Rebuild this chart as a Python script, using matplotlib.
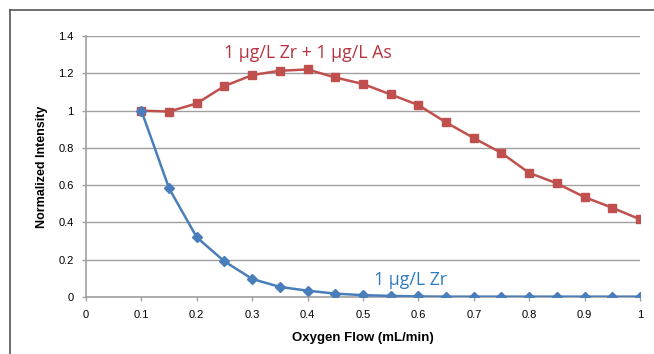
import matplotlib.pyplot as plt
from matplotlib.lines import Line2D

# oxygen flow (mL/min)
flow = [0.1, 0.15, 0.2, 0.25, 0.3, 0.35, 0.4, 0.45, 0.5, 0.55,
        0.6, 0.65, 0.7, 0.75, 0.8, 0.85, 0.9, 0.95, 1.0]

# normalized intensities
zr_as = [1.0, 0.995, 1.039, 1.132, 1.191, 1.214, 1.221, 1.178, 1.143, 1.087,
         1.03, 0.937, 0.853, 0.773, 0.666, 0.61, 0.536, 0.479, 0.417]
zr = [1.0, 0.583, 0.32, 0.191, 0.097, 0.054, 0.034, 0.018, 0.01, 0.006,
      0.003, 0.002, 0.002, 0.002, 0.002, 0.002, 0.002, 0.002, 0.002]

xticks = [0, 0.1, 0.2, 0.3, 0.4, 0.5, 0.6, 0.7, 0.8, 0.9, 1]
xtick_labels = ['0', '0.1', '0.2', '0.3', '0.4', '0.5', '0.6', '0.7', '0.8', '0.9', '1']
yticks = [0, 0.2, 0.4, 0.6, 0.8, 1.0, 1.2, 1.4]
ytick_labels = ['0', '0.2', '0.4', '0.6', '0.8', '1', '1.2', '1.4']

plt.rcParams['font.family'] = ['Liberation Sans', 'DejaVu Sans']

fig = plt.figure(figsize=(6.54, 3.54), dpi=100)
ax = fig.add_axes([0.1315, 0.161, 0.847, 0.737])

ax.plot(flow, zr_as, color='#C0504D', lw=1.8, marker='s', ms=6, zorder=3)
ax.plot(flow, zr, color='#4A7EBB', lw=1.8, marker='D', ms=5, zorder=3)

ax.set_xlim(0, 1)
ax.set_ylim(0, 1.4)
ax.set_xticks(xticks)
ax.set_xticklabels(xtick_labels)
ax.set_yticks(yticks)
ax.set_yticklabels(ytick_labels)
ax.tick_params(labelsize=8, color='#A0A0A0', length=3, width=1, pad=6)
ax.grid(axis='y', color='#A0A0A0', lw=1)
ax.set_axisbelow(True)
for s in ['top', 'right']:
    ax.spines[s].set_visible(False)
for s in ['left', 'bottom']:
    ax.spines[s].set_color('#A0A0A0')
    ax.spines[s].set_linewidth(1.2)

ax.set_xlabel('Oxygen Flow (mL/min)', fontsize=9.5, fontweight='bold', labelpad=9)
ax.set_ylabel('Normalized Intensity', fontsize=9, fontweight='bold', labelpad=7)

# series labels
ax.text(0.40, 1.31, '1 µg/L Zr + 1 µg/L As', color='#B5333F', fontsize=12.8,
        ha='center', va='center', family=['Open Sans', 'DejaVu Sans'])
ax.text(0.585, 0.09, '1 µg/L Zr', color='#2E7BC0', fontsize=12.8,
        ha='center', va='center', family=['Open Sans', 'DejaVu Sans'])

# frame lines along top and left
fig.add_artist(Line2D([10 / 654, 1], [1 - 10 / 354, 1 - 10 / 354],
                      color='#555555', lw=1.2, transform=fig.transFigure))
fig.add_artist(Line2D([10 / 654, 10 / 654], [0, 1 - 10 / 354],
                      color='#555555', lw=1.2, transform=fig.transFigure))

plt.savefig('out.png', dpi=100)
